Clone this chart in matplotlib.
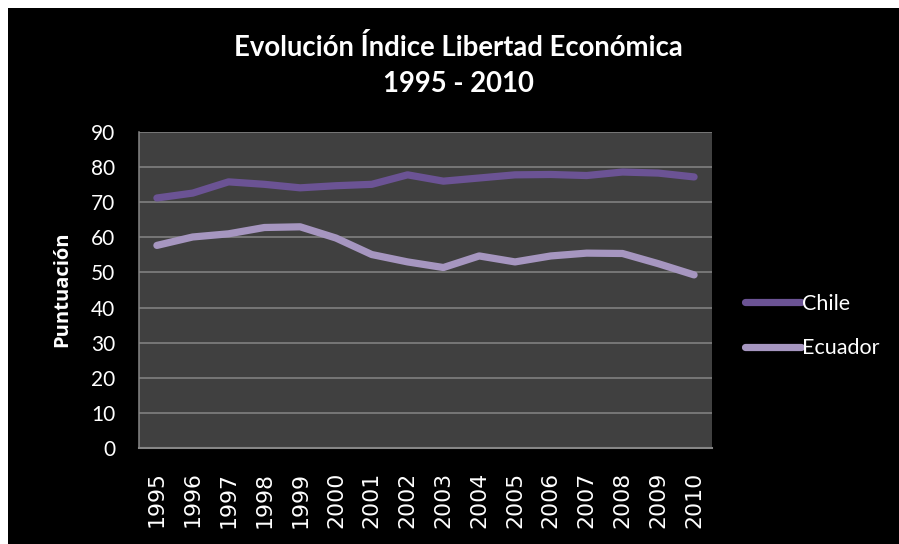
import matplotlib
matplotlib.use("Agg")
import matplotlib.pyplot as plt
from matplotlib.patches import Rectangle

years = ["1995", "1996", "1997", "1998", "1999", "2000", "2001", "2002",
         "2003", "2004", "2005", "2006", "2007", "2008", "2009", "2010"]
chile = [71.2, 72.6, 75.8, 75.1, 74.1, 74.7, 75.1, 77.8,
         76.0, 76.9, 77.8, 77.9, 77.6, 78.6, 78.3, 77.2]
ecuador = [57.7, 60.1, 61.0, 62.8, 63.0, 59.8, 55.1, 53.0,
           51.4, 54.7, 53.0, 54.7, 55.5, 55.4, 52.5, 49.3]
series_names = ["Chile", "Ecuador"]
yticks = [0, 10, 20, 30, 40, 50, 60, 70, 80, 90]

W, H = 899, 544
fig = plt.figure(figsize=(W / 100, H / 100), dpi=100, facecolor="white")
fig.patches.append(Rectangle((8 / W, 0), 1 - 8 / W, 1 - 8 / H,
                             transform=fig.transFigure, facecolor="black",
                             edgecolor="none", zorder=-10))

left, right, top, bottom = 139, 712, 132, 448
ax = fig.add_axes([left / W, 1 - bottom / H, (right - left) / W, (bottom - top) / H])
ax.set_facecolor("#404040")

x = list(range(len(years)))
c_chile = "#6b5394"
c_ecu = "#a696c0"
ax.plot(x, chile, color=c_chile, lw=5.2, solid_capstyle="round",
        solid_joinstyle="round", label=series_names[0], zorder=3)
ax.plot(x, ecuador, color=c_ecu, lw=5.2, solid_capstyle="round",
        solid_joinstyle="round", label=series_names[1], zorder=3)

ax.set_xlim(-0.5, len(years) - 0.5)
ax.set_ylim(0, 90)
ax.set_yticks(yticks)
ax.set_yticklabels([str(v) for v in yticks], fontfamily="Lato", fontsize=15,
                   color="white")
ax.set_xticks(x)
ax.set_xticklabels(years, rotation=90, fontfamily="DejaVu Sans", fontsize=15.8,
                   color="white")
ax.tick_params(axis="y", length=0, pad=17)
ax.tick_params(axis="x", length=0, pad=17)
ax.grid(axis="y", color="#868686", lw=1.1, zorder=1)
ax.set_axisbelow(True)
for s in ["top", "right"]:
    ax.spines[s].set_visible(False)
ax.spines["left"].set_color("#868686")
ax.spines["left"].set_linewidth(1.1)
ax.spines["bottom"].set_color("#868686")
ax.spines["bottom"].set_linewidth(1.5)

fig.text(458 / W, 1 - 55.5 / H, "Evolución Índice Libertad Económica",
         ha="center", va="baseline", fontfamily="Lato", fontweight="bold",
         fontsize=19.8, color="white")
fig.text(458 / W, 1 - 91.5 / H, "1995 - 2010",
         ha="center", va="baseline", fontfamily="Lato", fontweight="bold",
         fontsize=19.8, color="white")
fig.text(62 / W, 1 - 289 / H, "Puntuación", rotation=90, ha="center",
         va="center", fontfamily="Open Sans", fontweight="bold", fontsize=14.5,
         color="white")

leg = fig.legend(loc="center left", bbox_to_anchor=(745 / W, 1 - 326 / H),
                 frameon=False, handlelength=2.6,
                 handletextpad=0.05, labelspacing=1.15, borderpad=0,
                 borderaxespad=0, prop={"family": "Lato", "size": 15.5})
for t in leg.get_texts():
    t.set_color("white")

fig.savefig("out.png", dpi=100, facecolor=fig.get_facecolor())
